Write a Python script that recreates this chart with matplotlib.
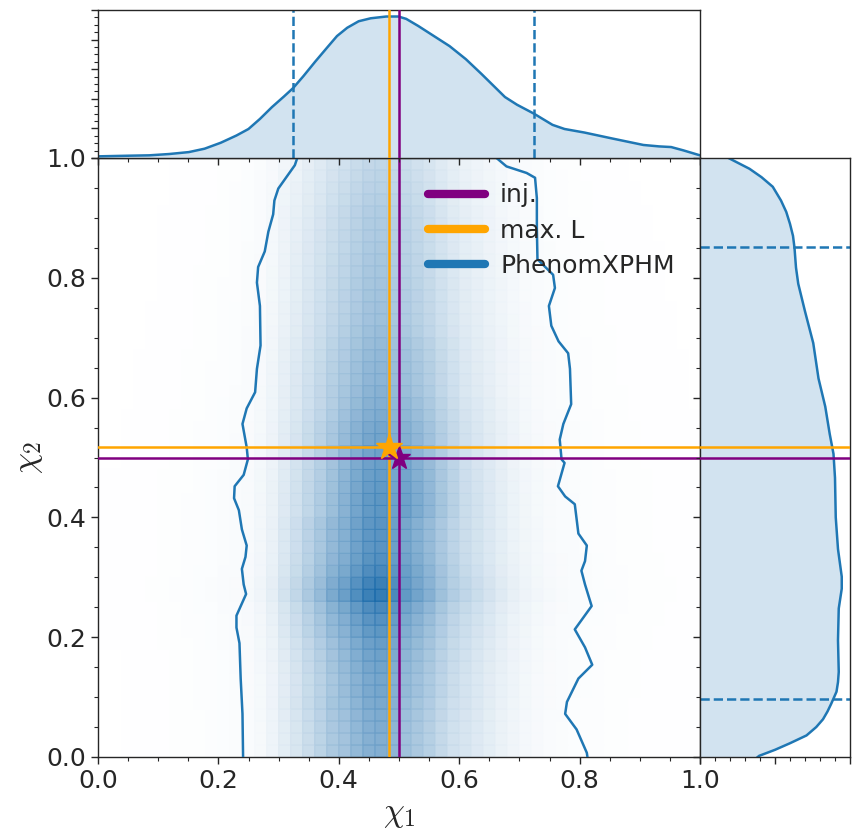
import numpy as np
import matplotlib
matplotlib.use("Agg")
import matplotlib.pyplot as plt
from matplotlib.colors import LinearSegmentedColormap
from matplotlib.lines import Line2D
from matplotlib.ticker import MultipleLocator

plt.rcParams['font.family'] = ['DejaVu Sans']
plt.rcParams['mathtext.fontset'] = 'cm'

# ---------------- data ----------------
inj = [0.5, 0.5]
maxL = [0.483, 0.518]

# 90% credible bounds
chi1_bounds = [0.324, 0.724]
chi2_bounds = [0.097, 0.851]

# top marginal KDE (chi1)
kde1_x = [0.0, 0.0525, 0.085, 0.118, 0.151, 0.177, 0.204, 0.23, 0.25, 0.269, 0.289, 0.309,
          0.324, 0.341, 0.361, 0.381, 0.397, 0.414, 0.433, 0.453, 0.479, 0.499, 0.512,
          0.532, 0.558, 0.584, 0.611, 0.637, 0.676, 0.696, 0.724, 0.755, 0.775, 0.808,
          0.854, 0.906, 0.932, 0.952, 0.972, 1.0]
kde1_d = [0.028, 0.039, 0.045, 0.067, 0.10, 0.157, 0.258, 0.38, 0.49, 0.66, 0.86, 1.04,
          1.18, 1.38, 1.63, 1.87, 2.06, 2.20, 2.31, 2.36, 2.39, 2.39, 2.35,
          2.23, 2.06, 1.89, 1.67, 1.42, 1.03, 0.90, 0.75, 0.56, 0.49, 0.43,
          0.33, 0.22, 0.196, 0.185, 0.13, 0.045]

# right marginal KDE (chi2)
kde2_y = [0.0, 0.002, 0.012, 0.023, 0.036, 0.05, 0.063, 0.076, 0.089, 0.109, 0.125, 0.142,
          0.195, 0.248, 0.281, 0.301, 0.347, 0.40, 0.466, 0.506, 0.539, 0.585, 0.632,
          0.691, 0.744, 0.79, 0.817, 0.85, 0.87, 0.89, 0.91, 0.929, 0.952, 0.968, 0.982, 1.0]
kde2_d = [0.77, 0.79, 1.0, 1.2, 1.42, 1.55, 1.64, 1.70, 1.75, 1.82, 1.84, 1.85,
          1.84, 1.85, 1.89, 1.89, 1.84, 1.81, 1.80, 1.78, 1.73, 1.67, 1.58,
          1.51, 1.40, 1.31, 1.28, 1.26, 1.24, 1.2, 1.15, 1.08, 0.97, 0.82, 0.66, 0.38]

# outer credible contour: left and right boundaries
cl_y = [1.0, 0.988, 0.949, 0.929, 0.906, 0.877, 0.844, 0.818, 0.792, 0.753, 0.687, 0.648,
        0.609, 0.582, 0.556, 0.517, 0.497, 0.471, 0.452, 0.432, 0.412, 0.380, 0.353,
        0.334, 0.314, 0.288, 0.272, 0.236, 0.216, 0.190, 0.131, 0.072, 0.0]
cl_x = [0.331, 0.327, 0.2995, 0.293, 0.291, 0.283, 0.277, 0.266, 0.264, 0.269, 0.270, 0.264,
        0.261, 0.247, 0.240, 0.247, 0.249, 0.242, 0.227, 0.226, 0.234, 0.239, 0.247,
        0.245, 0.239, 0.242, 0.246, 0.230, 0.230, 0.235, 0.237, 0.240, 0.241]
cr_y = [1.0, 0.986, 0.975, 0.967, 0.933, 0.883, 0.831, 0.805, 0.783, 0.753, 0.720, 0.694,
        0.674, 0.648, 0.589, 0.556, 0.530, 0.497, 0.491, 0.452, 0.435, 0.422, 0.373,
        0.353, 0.327, 0.311, 0.288, 0.252, 0.213, 0.183, 0.154, 0.131, 0.092, 0.072,
        0.046, 0.007, 0.0]
cr_x = [0.662, 0.6785, 0.712, 0.726, 0.729, 0.729, 0.730, 0.756, 0.759, 0.749, 0.753, 0.765,
        0.781, 0.784, 0.786, 0.773, 0.767, 0.770, 0.775, 0.764, 0.776, 0.792, 0.798,
        0.812, 0.809, 0.803, 0.809, 0.820, 0.792, 0.809, 0.821, 0.798, 0.779, 0.776,
        0.795, 0.812, 0.813]

# 2D histogram density (50 x 50 bins): column profile x row profile x coarse modulation
x_profile = [0.005, 0.005, 0.006, 0.007, 0.008, 0.010, 0.012, 0.014, 0.017, 0.020,
             0.025, 0.032, 0.045, 0.07, 0.12, 0.20, 0.28, 0.38, 0.48, 0.60,
             0.70, 0.82, 0.92, 0.95, 0.85, 0.78, 0.70, 0.60, 0.48, 0.38,
             0.30, 0.25, 0.20, 0.15, 0.11, 0.08, 0.06, 0.045, 0.035, 0.028,
             0.022, 0.018, 0.015, 0.013, 0.011, 0.010, 0.009, 0.008, 0.007, 0.006]
y_profile = [0.62, 0.62, 0.63, 0.64, 0.66, 0.68, 0.68, 0.70, 0.72, 0.75,
             0.80, 0.84, 0.90, 1.00, 0.97, 0.90, 0.85, 0.82, 0.82, 0.82,
             0.80, 0.80, 0.78, 0.76, 0.74, 0.72, 0.70, 0.68, 0.64, 0.61,
             0.59, 0.57, 0.56, 0.54, 0.52, 0.50, 0.48, 0.47, 0.46, 0.45,
             0.44, 0.43, 0.42, 0.41, 0.40, 0.39, 0.37, 0.35, 0.33, 0.31]
# rows: chi2 bands of 0.1 (bottom->top); cols: chi1 bands of 0.1
modulation = [
    [1, 1, 1, 1.05, 1.00, 0.92, 1, 1, 1, 1],
    [1, 1, 1, 1.00, 1.00, 0.95, 1, 1, 1, 1],
    [1, 1, 1, 1.03, 1.00, 0.95, 1, 1, 1, 1],
    [1, 1, 1, 1.03, 1.00, 1.00, 1, 1, 1, 1],
    [1, 1, 1, 0.97, 1.00, 1.10, 1.04, 1, 1, 1],
    [1, 1, 1, 0.97, 1.00, 1.07, 1.03, 1, 1, 1],
    [1, 1, 1, 1.00, 1.00, 1.04, 1, 1, 1, 1],
    [1, 1, 1, 1.00, 1.00, 1.00, 1, 1, 1, 1],
    [1, 1, 1, 1.00, 1.00, 1.00, 1, 1, 1, 1],
    [1, 1, 1, 1.00, 1.00, 1.00, 1, 1, 1, 1],
]

legend_labels = ['inj.', 'max. L', 'PhenomXPHM']

# ---------------- plotting ----------------
C0 = '#1f77b4'
PURPLE = '#800080'
ORANGE = '#FFA500'
TXT = '#262626'

fig = plt.figure(figsize=(8.59, 8.39), dpi=100)
W, H = 859.0, 839.0
ax = fig.add_axes([98 / W, 82 / H, 602 / W, 599 / H])
axt = fig.add_axes([98 / W, 681 / H, 602 / W, 148 / H])
axr = fig.add_axes([700 / W, 82 / H, 150 / W, 599 / H])

# heatmap
nb = len(x_profile)
edges = np.linspace(0, 1, nb + 1)
mod = np.repeat(np.repeat(np.array(modulation, float), 5, axis=0), 5, axis=1)
dens = np.outer(y_profile, x_profile) * mod
cmap = LinearSegmentedColormap.from_list('wb', ['#ffffff', '#1366a8'])
ax.pcolor(edges, edges, dens, cmap=cmap, vmin=0, vmax=dens.max(),
          alpha=0.85, edgecolors='face', linewidth=0.7, antialiased=True, zorder=1)

# contour
ax.plot(cl_x, cl_y, color=C0, lw=1.8, zorder=3)
ax.plot(cr_x, cr_y, color=C0, lw=1.8, zorder=3)

# injection / max L lines
for a in (ax, axt):
    a.axvline(inj[0], color=PURPLE, lw=1.8, zorder=4)
    a.axvline(maxL[0], color=ORANGE, lw=1.8, zorder=4)
for a in (ax, axr):
    a.axhline(inj[1], color=PURPLE, lw=1.8, zorder=4)
    a.axhline(maxL[1], color=ORANGE, lw=1.8, zorder=4)
ax.plot([inj[0]], [inj[1]], marker='*', color=PURPLE, ms=17, zorder=5, clip_on=False)
ax.plot([maxL[0]], [maxL[1]], marker='*', color=ORANGE, ms=20, zorder=6, clip_on=False)

ax.set_xlim(0, 1)
ax.set_ylim(0, 1)
ax.xaxis.set_major_locator(MultipleLocator(0.2))
ax.yaxis.set_major_locator(MultipleLocator(0.2))
ax.xaxis.set_minor_locator(MultipleLocator(0.05))
ax.yaxis.set_minor_locator(MultipleLocator(0.05))
ax.tick_params(which='both', direction='out', colors=TXT, labelsize=18)
ax.tick_params(which='major', length=5, width=1)
ax.tick_params(which='minor', length=3, width=0.8)
ax.set_xlabel(r'$\chi_1$', fontsize=24, color=TXT, labelpad=3)
ax.set_ylabel(r'$\chi_2$', fontsize=24, color=TXT, labelpad=1)

handles = [Line2D([], [], color=c, lw=6, solid_capstyle='round') for c in (PURPLE, ORANGE, C0)]
ax.legend(handles, legend_labels, loc='upper left', bbox_to_anchor=(0.51, 0.995),
          frameon=False, fontsize=18, handlelength=2.3, labelspacing=0.45,
          handletextpad=0.6, labelcolor=TXT)

# top marginal
axt.fill_between(kde1_x, kde1_d, color=C0, alpha=0.2, lw=0)
axt.plot(kde1_x, kde1_d, color=C0, lw=1.8)
for b in chi1_bounds:
    axt.axvline(b, color=C0, ls='--', lw=1.8)
axt.set_xlim(0, 1)
axt.set_ylim(0, 2.5)
axt.xaxis.set_major_locator(MultipleLocator(0.2))
axt.xaxis.set_minor_locator(MultipleLocator(0.05))
axt.yaxis.set_major_locator(MultipleLocator(0.5))
axt.yaxis.set_minor_locator(MultipleLocator(0.125))
axt.tick_params(which='both', direction='out', colors=TXT, labelbottom=False, labelleft=False)
axt.tick_params(which='major', length=5, width=1)
axt.tick_params(which='minor', length=3, width=0.8)

# right marginal
axr.fill_betweenx(kde2_y, kde2_d, color=C0, alpha=0.2, lw=0)
axr.plot(kde2_d, kde2_y, color=C0, lw=1.8)
for b in chi2_bounds:
    axr.axhline(b, color=C0, ls='--', lw=1.8)
axr.set_ylim(0, 1)
axr.set_xlim(0, 2.0)
axr.xaxis.set_major_locator(MultipleLocator(1.0))
axr.xaxis.set_minor_locator(MultipleLocator(0.2))
axr.yaxis.set_major_locator(MultipleLocator(0.2))
axr.yaxis.set_minor_locator(MultipleLocator(0.05))
axr.tick_params(which='both', direction='out', colors=TXT, labelbottom=False, labelleft=False)
axr.tick_params(which='major', length=5, width=1)
axr.tick_params(which='minor', length=3, width=0.8)

for a in (ax, axt, axr):
    for s in a.spines.values():
        s.set_color(TXT)
        s.set_linewidth(1.0)

fig.savefig('out.png', dpi=100)
